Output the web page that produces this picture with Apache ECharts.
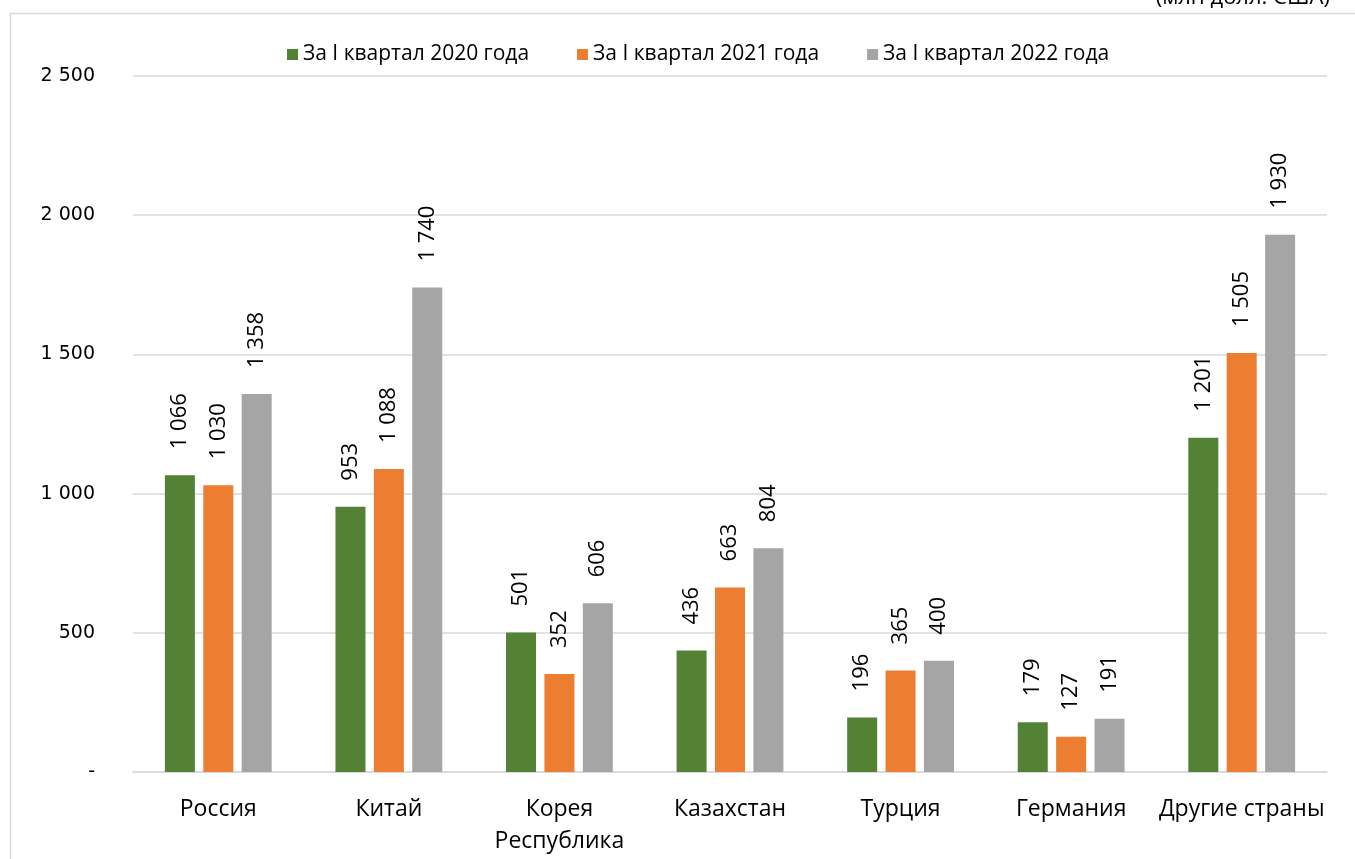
<!DOCTYPE html>
<html>
<head>
<meta charset="utf-8">
<script src="https://cdn.jsdelivr.net/npm/echarts@6/dist/echarts.min.js"></script>
<style>
  html, body { margin: 0; padding: 0; background: #fff; }
  #chart { width: 1355px; height: 859px; }
</style>
</head>
<body>
<div id="chart"></div>
<script>
const countries = ["Россия", "Китай", "Корея\nРеспублика", "Казахстан", "Турция", "Германия", "Другие страны"];
const q1_2020 = [1066, 953, 501, 436, 196, 179, 1201];
const q1_2021 = [1030, 1088, 352, 663, 365, 127, 1505];
const q1_2022 = [1358, 1740, 606, 804, 400, 191, 1930];
const seriesNames = ["За I квартал 2020 года", "За I квартал 2021 года", "За I квартал 2022 года"];
const colors = ["#548235", "#ED7D31", "#A5A5A5"];

const fmt = v => v === 0 ? "-" : String(v).replace(/\B(?=(\d{3})+(?!\d))/g, " ");
const font = "'Open Sans', 'Noto Sans', sans-serif";

const chart = echarts.init(document.getElementById("chart"));

const makeSeries = (name, data, color) => ({
  name: name,
  type: "bar",
  data: data,
  barWidth: 30,
  barGap: "28%",
  itemStyle: { color: color },
  label: {
    show: true,
    position: "top",
    rotate: 90,
    align: "left",
    verticalAlign: "middle",
    distance: 26,
    fontSize: 22,
    fontFamily: font,
    color: "#000",
    formatter: p => fmt(p.value)
  }
});

chart.setOption({
  animation: false,
  textStyle: { fontFamily: font },
  legend: {
    top: 39,
    left: 282,
    itemWidth: 11,
    itemHeight: 11,
    itemGap: 48,
    icon: "rect",
    textStyle: { fontSize: 21, color: "#000", fontFamily: font }
  },
  grid: { left: 133, right: 28, top: 76, bottom: 87 },
  graphic: [
    {
      type: "rect",
      shape: { x: 10.5, y: 13.5, width: 1400, height: 900 },
      style: { fill: "none", stroke: "#d9d9d9", lineWidth: 1.5 },
      silent: true
    },
    {
      type: "text",
      x: 1330,
      y: -2,
      style: {
        text: "(млн долл. США)",
        textAlign: "right",
        textVerticalAlign: "middle",
        fontSize: 22,
        fontFamily: font,
        fill: "#000"
      }
    }
  ],
  xAxis: {
    type: "category",
    data: countries,
    axisLine: { lineStyle: { color: "#d9d9d9", width: 1.5 } },
    axisTick: { show: false },
    axisLabel: {
      fontSize: 23,
      color: "#000",
      fontFamily: font,
      lineHeight: 32,
      margin: 21,
      interval: 0
    }
  },
  yAxis: {
    type: "value",
    min: 0,
    max: 2500,
    interval: 500,
    axisLine: { show: false },
    axisTick: { show: false },
    splitLine: { lineStyle: { color: "#d9d9d9", width: 1.5 } },
    axisLabel: {
      fontSize: 19,
      color: "#000",
      fontFamily: "'DejaVu Sans', sans-serif",
      margin: 38,
      formatter: fmt
    }
  },
  series: [
    makeSeries(seriesNames[0], q1_2020, colors[0]),
    makeSeries(seriesNames[1], q1_2021, colors[1]),
    makeSeries(seriesNames[2], q1_2022, colors[2])
  ]
});
</script>
</body>
</html>
